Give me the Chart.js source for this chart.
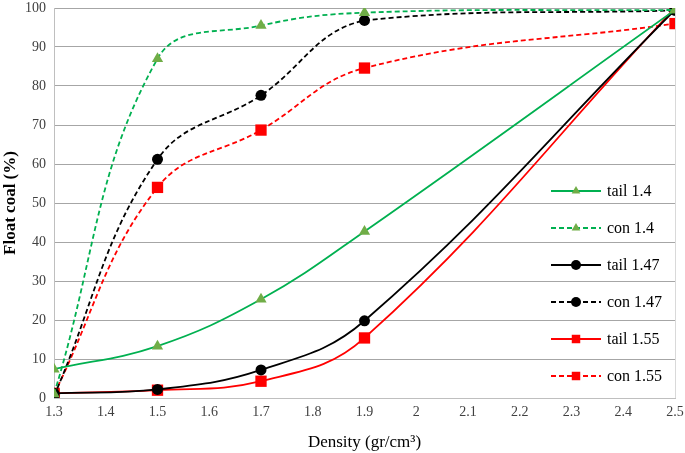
<!DOCTYPE html>
<html>
<head>
<meta charset="utf-8">
<script src="https://cdn.jsdelivr.net/npm/chart.js@4.4.0/dist/chart.umd.min.js"></script>
<style>
  html, body { margin: 0; padding: 0; background: #fff; }
  #wrap { width: 685px; height: 453px; position: relative; }
</style>
</head>
<body>
<div id="wrap"><canvas id="chart" width="685" height="453"></canvas></div>
<script>
// density values (x)
const density = [1.3, 1.5, 1.7, 1.9, 2.5];
const xTicks = [1.3, 1.4, 1.5, 1.6, 1.7, 1.8, 1.9, 2.0, 2.1, 2.2, 2.3, 2.4, 2.5];

// float coal (%) per series
const tail14 = [7.4, 13.3, 25.3, 42.7, 99.5];
const con14 = [1.0, 87.0, 95.5, 98.8, 99.5];
const tail147 = [1.2, 2.2, 7.2, 19.8, 99.5];
const con147 = [0.5, 61.2, 77.6, 96.8, 99.4];
const tail155 = [1.2, 2.0, 4.3, 15.4, 100];
const con155 = [1.0, 54.0, 68.7, 84.6, 96.0];

const seriesLabels = ['tail 1.4', 'con 1.4', 'tail 1.47', 'con 1.47', 'tail 1.55', 'con 1.55'];

const GREEN = '#00b050', GREEN_MK = '#70ad47', BLACK = '#000000', RED = '#ff0000';
const serif = "'Liberation Serif', 'Times New Roman', serif";

const pts = ys => density.map((x, i) => ({ x: x, y: ys[i] }));

function mkSet(label, ys, color, mkColor, style, radius, dashed) {
  return {
    label: label,
    data: pts(ys),
    borderColor: color,
    backgroundColor: mkColor,
    pointBackgroundColor: mkColor,
    pointBorderColor: mkColor,
    pointBorderWidth: 0,
    pointStyle: style,
    pointRadius: radius,
    pointHoverRadius: radius,
    borderWidth: 1.8,
    borderDash: dashed ? [5, 3] : [],
    tension: 0.4,
    fill: false
  };
}

// legend drawn inside the plot, right side
const sideLegend = {
  id: 'sideLegend',
  afterDraw(chart) {
    const ctx = chart.ctx;
    const x0 = 551, x1 = 601, top = 191, gap = 37;
    chart.data.datasets.forEach((ds, i) => {
      const y = top + i * gap;
      ctx.save();
      ctx.strokeStyle = ds.borderColor;
      ctx.lineWidth = 1.8;
      ctx.setLineDash(ds.borderDash);
      ctx.beginPath();
      ctx.moveTo(x0, y);
      ctx.lineTo(x1, y);
      ctx.stroke();
      ctx.setLineDash([]);
      ctx.fillStyle = ds.pointBackgroundColor;
      ctx.strokeStyle = ds.pointBorderColor;
      Chart.helpers.drawPoint(ctx, { pointStyle: ds.pointStyle, radius: ds.pointStyle === 'rect' ? 6 : 5, rotation: 0, borderWidth: 0 }, (x0 + x1) / 2, y);
      ctx.fillStyle = '#000';
      ctx.font = '16px ' + serif;
      ctx.textBaseline = 'middle';
      ctx.fillText(ds.label, 607, y + 1);
      ctx.restore();
    });
  }
};

new Chart(document.getElementById('chart'), {
  type: 'line',
  data: {
    datasets: [
      mkSet(seriesLabels[0], tail14, GREEN, GREEN_MK, 'triangle', 6.5, false),
      mkSet(seriesLabels[1], con14, GREEN, GREEN_MK, 'triangle', 6.5, true),
      mkSet(seriesLabels[2], tail147, BLACK, BLACK, 'circle', 5.5, false),
      mkSet(seriesLabels[3], con147, BLACK, BLACK, 'circle', 5.5, true),
      mkSet(seriesLabels[4], tail155, RED, RED, 'rect', 8, false),
      mkSet(seriesLabels[5], con155, RED, RED, 'rect', 8, true)
    ]
  },
  options: {
    responsive: false,
    animation: false,
    layout: { padding: { top: 7, right: 10, left: 0, bottom: 0 } },
    plugins: {
      legend: { display: false },
      tooltip: { enabled: false }
    },
    scales: {
      x: {
        type: 'linear',
        min: 1.3,
        max: 2.5,
        afterBuildTicks: s => { s.ticks = xTicks.map(v => ({ value: v })); },
        afterFit: s => { s.height = 55; s.paddingLeft = 0; s.paddingRight = 0; },
        grid: { display: false, drawTicks: false },
        border: { color: '#bfbfbf', width: 1 },
        ticks: {
          color: '#404040',
          font: { family: serif, size: 14 },
          padding: 6,
          maxRotation: 0,
          autoSkip: false,
          callback: v => String(Number(v.toFixed(1)))
        },
        title: {
          display: true,
          text: 'Density (gr/cm³)',
          color: '#000',
          font: { family: serif, size: 17 },
          padding: { top: 4, bottom: 0 }
        }
      },
      y: {
        min: 0,
        max: 100,
        afterFit: s => { s.width = 54; s.paddingTop = 0; s.paddingBottom = 0; },
        grid: { color: '#a6a6a6', lineWidth: 1, drawTicks: false },
        border: { color: '#bfbfbf', width: 1 },
        ticks: {
          stepSize: 10,
          color: '#404040',
          font: { family: serif, size: 14 },
          padding: 8
        },
        title: {
          display: true,
          text: 'Float coal (%)',
          color: '#000',
          font: { family: serif, size: 17, weight: 'bold' },
          padding: { top: 0, bottom: 2 }
        }
      }
    }
  },
  plugins: [sideLegend, {
    id: 'rightEdge',
    beforeDatasetsDraw(chart) {
      const a = chart.chartArea, ctx = chart.ctx;
      ctx.save();
      ctx.strokeStyle = '#d9d9d9';
      ctx.lineWidth = 1;
      ctx.beginPath();
      ctx.moveTo(a.right + 0.5, a.top);
      ctx.lineTo(a.right + 0.5, a.bottom);
      ctx.stroke();
      ctx.restore();
    }
  }]
});
</script>
</body>
</html>
